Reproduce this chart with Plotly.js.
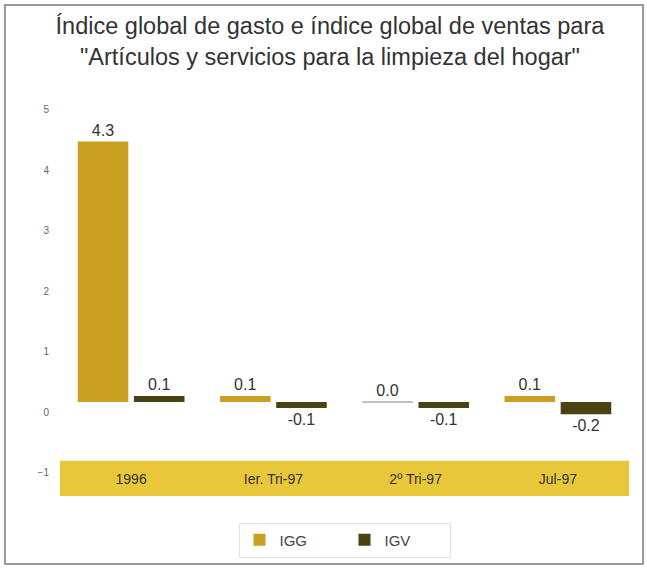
<!DOCTYPE html>
<html>
<head>
<meta charset="utf-8">
<script src="https://cdn.plot.ly/plotly-3.0.1.min.js"></script>
<style>html,body{margin:0;padding:0;background:#fff;}#chart{width:647px;height:569px;}</style>
</head>
<body>
<div id="chart"></div>
<script>
var categories = ["1996", "Ier. Tri-97", "2º Tri-97", "Jul-97"];
var seriesNames = ["IGG", "IGV"];
var igg = [4.3, 0.1, 0.0, 0.1];
var igv = [0.1, -0.1, -0.1, -0.2];
var yTicks = [-1, 0, 1, 2, 3, 4, 5];

var sans = "Liberation Sans, Arial, sans-serif";
var cIGG = "#c9a021";
var cIGV = "#4b4214";

var traces = [
  {
    type: "bar", name: seriesNames[0], x: categories, y: igg,
    marker: {color: cIGG, line: {color: ["#fff", "#fff", "#aaa", "#fff"], width: [0, 0, 1, 0]}},
    texttemplate: "%{y:.1f}", textposition: "outside",
    textfont: {family: sans, size: 16, color: "#333"},
    cliponaxis: false, hoverinfo: "skip"
  },
  {
    type: "bar", name: seriesNames[1], x: categories, y: igv,
    marker: {color: cIGV},
    texttemplate: "%{y:.1f}", textposition: "outside",
    textfont: {family: sans, size: 16, color: "#333"},
    cliponaxis: false, hoverinfo: "skip"
  },
  {
    type: "scatter", mode: "markers", x: [], y: [], yaxis: "y2",
    showlegend: false, hoverinfo: "skip"
  }
];

var layout = {
  width: 647, height: 569,
  paper_bgcolor: "#fff", plot_bgcolor: "rgba(0,0,0,0)",
  margin: {l: 60, r: 18, t: 87, b: 69},
  title: {
    text: "Índice global de gasto e índice global de ventas para<br>\"Artículos y servicios para la limpieza del hogar\"",
    font: {family: sans, size: 23.5, color: "#333"},
    x: 0.51, xanchor: "center", y: 0.94, yanchor: "middle"
  },
  barmode: "group", bargap: 0.21, bargroupgap: 0.1,
  showlegend: true,
  legend: {
    orientation: "h", x: 0.5, xanchor: "center", y: -0.097, yanchor: "middle",
    font: {family: sans, size: 15, color: "#444"},
    bordercolor: "#e3e3e3", borderwidth: 1, bgcolor: "#fff",
    entrywidth: 60, traceorder: "normal"
  },
  xaxis: {
    type: "category", range: [-0.5, 3.5],
    anchor: "free", position: 0.072,
    showline: false, showgrid: false, zeroline: false, ticks: "",
    tickfont: {family: sans, size: 14, color: "#333"}
  },
  yaxis: {
    range: [-1.6, 5.2], showticklabels: false, showgrid: false, zeroline: false, showline: false, ticks: ""
  },
  yaxis2: {
    overlaying: "y", anchor: "x", side: "left",
    range: [-1.43, 5.37], tickvals: yTicks, showgrid: false, zeroline: false, showline: false, ticks: "",
    tickfont: {family: sans, size: 10, color: "#666"},
    ticklabelstandoff: 10
  },
  shapes: [
    {type: "rect", xref: "paper", yref: "y", x0: 0, x1: 1, y0: -0.97, y1: -1.55,
     fillcolor: "#e8c73a", line: {width: 0}, layer: "below"},
    {type: "rect", xref: "paper", yref: "paper", x0: -0.0967, x1: 1.0246, y0: -0.1575, y1: 1.199,
     fillcolor: "rgba(0,0,0,0)", line: {color: "#9a9a9a", width: 2}, layer: "below"}
  ]
};

Plotly.newPlot("chart", traces, layout, {displayModeBar: false, staticPlot: true});
</script>
</body>
</html>
